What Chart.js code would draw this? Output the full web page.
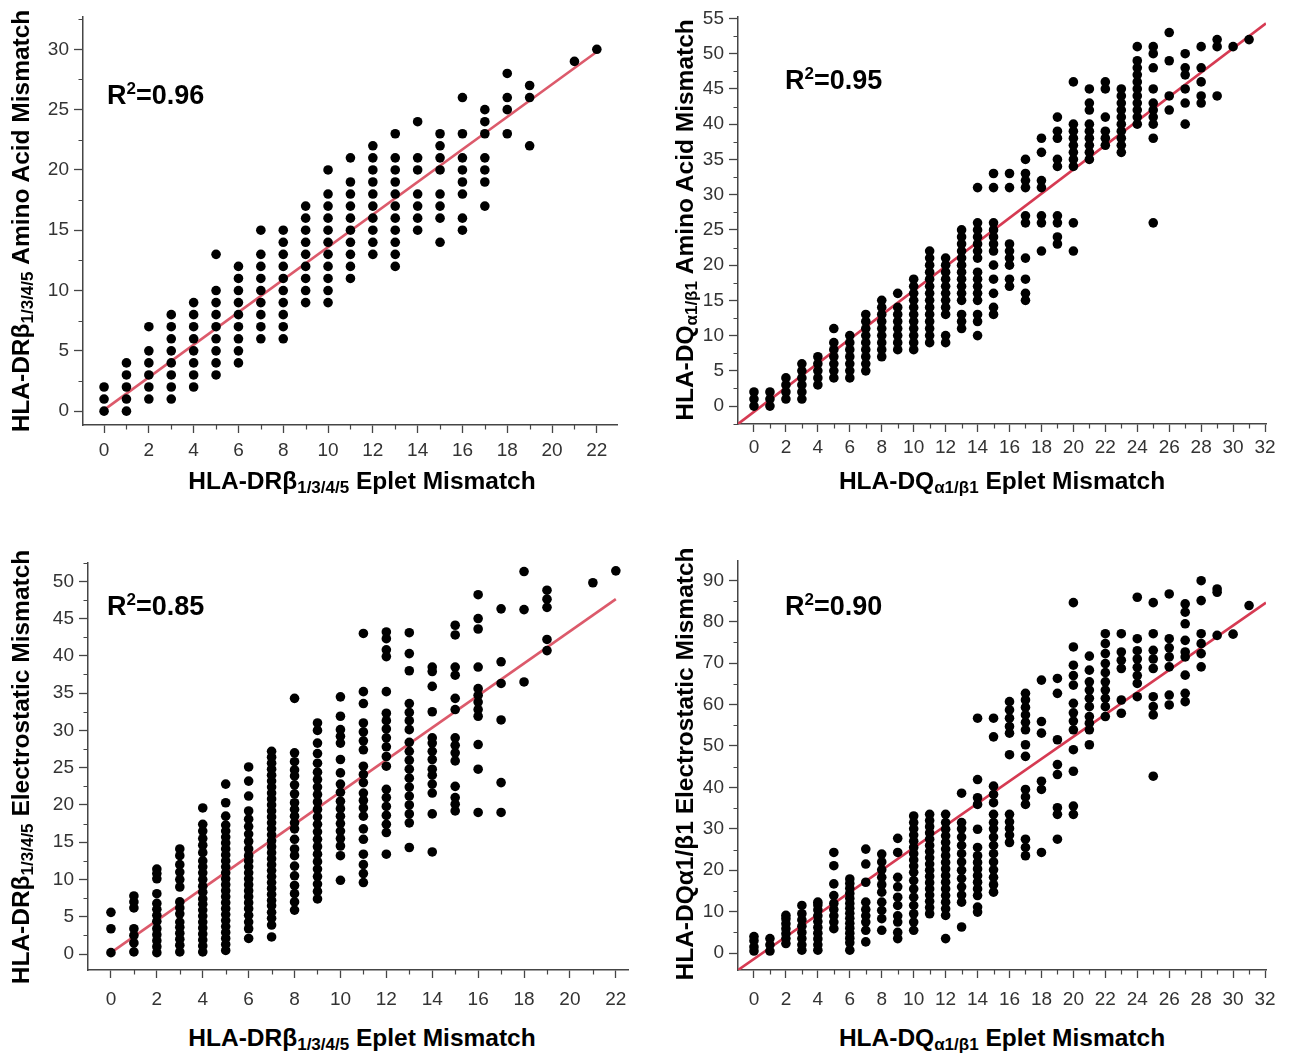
<!DOCTYPE html>
<html>
<head>
<meta charset="utf-8">
<script src="https://cdn.jsdelivr.net/npm/chart.js@4.4.1/dist/chart.umd.min.js"></script>
<style>
  body { margin: 0; background: #fff; }
  #page { position: relative; width: 1289px; height: 1053px; overflow: hidden;
          font-family: "Liberation Sans", Arial, Helvetica, sans-serif; }
  canvas { position: absolute; }
  .xt, .yt { position: absolute; font-weight: bold; font-size: 24.5px; color: #000; white-space: nowrap; }
  .xt { transform: translate(-50%, -50%); }
  .yt { transform: translate(-50%, -50%) rotate(-90deg); }
  .sub { font-size: 17px; position: relative; top: 4px; }
  .r2 { position: absolute; font-weight: bold; font-size: 27px; transform: translateY(-50%); }
  .r2 .sup { font-size: 17px; position: relative; top: -10px; }
</style>
</head>
<body>
<div id="page">
  <canvas id="c1" width="612" height="470" style="left:28px;top:0px"></canvas>
  <canvas id="c2" width="603" height="470" style="left:683px;top:0px"></canvas>
  <canvas id="c3" width="615" height="470" style="left:33px;top:546px"></canvas>
  <canvas id="c4" width="603" height="472" style="left:683px;top:544px"></canvas>

  <div class="yt" style="left:21px;top:221px">HLA-DRβ<span class="sub">1/3/4/5</span> Amino Acid Mismatch</div>
  <div class="xt" style="left:362px;top:481px">HLA-DRβ<span class="sub">1/3/4/5</span> Eplet Mismatch</div>
  <div class="yt" style="left:685px;top:220px">HLA-DQ<span class="sub">α1/β1</span> Amino Acid Mismatch</div>
  <div class="xt" style="left:1002px;top:481px">HLA-DQ<span class="sub">α1/β1</span> Eplet Mismatch</div>
  <div class="yt" style="left:21px;top:767px">HLA-DRβ<span class="sub">1/3/4/5</span> Electrostatic Mismatch</div>
  <div class="xt" style="left:362px;top:1038px">HLA-DRβ<span class="sub">1/3/4/5</span> Eplet Mismatch</div>
  <div class="yt" style="left:685px;top:764px">HLA-DQα1/β1 Electrostatic Mismatch</div>
  <div class="xt" style="left:1002px;top:1038px">HLA-DQ<span class="sub">α1/β1</span> Eplet Mismatch</div>

  <div class="r2" style="left:107px;top:95px">R<span class="sup">2</span>=0.96</div>
  <div class="r2" style="left:785px;top:80px">R<span class="sup">2</span>=0.95</div>
  <div class="r2" style="left:107px;top:606px">R<span class="sup">2</span>=0.85</div>
  <div class="r2" style="left:785px;top:606px">R<span class="sup">2</span>=0.90</div>
</div>

<script>
// each list: index = eplet mismatch count, values = mismatch scores at that count

// HLA-DRb1/3/4/5 amino acid mismatch
const drAminoAcid = [
  [0, 1, 2],
  [0, 1, 2, 3, 4],
  [1, 2, 3, 4, 5, 7],
  [1, 2, 3, 4, 5, 6, 7, 8],
  [2, 3, 4, 5, 6, 7, 8, 9],
  [3, 4, 5, 6, 7, 8, 9, 10, 13],
  [4, 5, 6, 7, 8, 9, 10, 11, 12],
  [6, 7, 8, 9, 10, 11, 12, 13, 15],
  [6, 7, 8, 9, 10, 11, 12, 13, 14, 15],
  [9, 10, 11, 12, 13, 14, 15, 16, 17],
  [9, 10, 11, 12, 13, 14, 15, 16, 17, 18, 20],
  [11, 12, 13, 14, 15, 16, 17, 18, 19, 21],
  [13, 14, 15, 16, 17, 18, 19, 20, 21, 22],
  [12, 13, 14, 15, 16, 17, 18, 19, 20, 21, 23],
  [15, 16, 17, 18, 20, 21, 24],
  [14, 16, 17, 18, 20, 21, 22, 23],
  [15, 16, 18, 19, 20, 21, 23, 26],
  [17, 19, 20, 21, 23, 24, 25],
  [23, 25, 26, 28],
  [22, 26, 27],
  [],
  [29],
  [30]
];

// HLA-DQa1/b1 amino acid mismatch
const dqAminoAcid = [
  [0, 1, 2],
  [0, 1, 2],
  [1, 2, 3, 4],
  [1, 2, 3, 4, 5, 6],
  [3, 4, 5, 6, 7],
  [4, 5, 6, 7, 8, 9, 11],
  [4, 5, 6, 7, 8, 9, 10],
  [5, 6, 7, 8, 9, 10, 11, 12, 13],
  [7, 8, 9, 10, 11, 12, 13, 14, 15],
  [8, 9, 10, 11, 12, 13, 14, 16],
  [8, 9, 10, 11, 12, 13, 14, 15, 16, 17, 18],
  [9, 10, 11, 12, 13, 14, 15, 16, 17, 18, 19, 20, 21, 22],
  [9, 10, 13, 14, 15, 16, 17, 18, 19, 20, 21],
  [11, 12, 13, 15, 16, 17, 18, 19, 20, 21, 22, 23, 24, 25],
  [10, 12, 13, 15, 16, 17, 18, 19, 21, 22, 23, 24, 25, 26, 31],
  [13, 14, 16, 18, 20, 22, 23, 24, 25, 26, 31, 33],
  [17, 18, 20, 21, 22, 23, 31, 33],
  [15, 16, 18, 21, 26, 27, 31, 32, 33, 35],
  [22, 26, 27, 31, 32, 36, 38],
  [23, 24, 26, 27, 34, 35, 38, 39, 41],
  [22, 26, 34, 35, 36, 37, 38, 39, 40, 46],
  [35, 36, 37, 38, 39, 40, 42, 43, 45],
  [37, 38, 39, 41, 45, 46],
  [36, 37, 38, 39, 40, 41, 42, 43, 44, 45],
  [40, 41, 42, 43, 44, 45, 46, 47, 48, 49, 51],
  [26, 38, 40, 41, 42, 43, 45, 48, 50, 51],
  [42, 44, 49, 53],
  [40, 43, 45, 47, 48, 50],
  [43, 44, 46, 48, 51],
  [44, 51, 52],
  [51],
  [52]
];

// HLA-DRb1/3/4/5 electrostatic mismatch
const drElectro = [
  [0.2, 3.4, 5.6],
  [0.3, 1.5, 2.5, 3.4, 6.2, 7.0, 7.8],
  [0.2, 1.0, 1.8, 2.6, 3.4, 4.4, 5.2, 6.0, 6.8, 8.1, 10.1, 10.8, 11.4],
  [0.3, 1.2, 2.0, 2.8, 3.6, 4.3, 5.4, 6.2, 7.0, 9.0, 10.0, 11.0, 12.0, 13.2, 14.1],
  [0.3, 1.1, 1.9, 2.7, 3.5, 4.3, 5.1, 5.9, 6.7, 7.4, 8.3, 9.1, 10.0, 10.9, 11.7, 12.5,
   13.6, 14.6, 15.5, 16.5, 17.4, 19.6],
  [0.5, 1.3, 2.1, 2.9, 3.7, 4.5, 5.3, 6.1, 6.9, 7.7, 8.5, 9.3, 10.1, 10.9, 11.7, 12.5,
   13.3, 14.1, 14.9, 15.7, 16.5, 17.3, 18.5, 20.3, 22.8],
  [2.1, 3.4, 4.3, 5.2, 6.1, 6.9, 7.7, 8.5, 9.3, 10.1, 10.9, 11.7, 12.5, 13.2, 14.1, 15.1,
   16.1, 17.1, 18.1, 19.2, 21.2, 23.2, 25.1],
  [2.3, 3.9, 4.8, 5.6, 6.5, 7.2, 8.0, 8.8, 9.6, 10.4, 11.2, 12.0, 12.8, 13.6, 14.4, 15.2,
   16.0, 16.8, 17.6, 18.4, 19.2, 20.0, 20.8, 21.6, 22.4, 23.2, 24.0, 24.8, 25.6, 26.4, 27.2],
  [5.9, 7.0, 8.1, 9.2, 10.5, 11.8, 13.2, 14.1, 15.4, 16.8, 17.6, 18.5, 19.4, 20.3, 21.5,
   22.7, 23.9, 24.7, 25.8, 27.0, 34.3],
  [7.4, 8.4, 9.4, 10.4, 11.4, 12.4, 13.4, 14.4, 15.4, 16.4, 17.4, 18.4, 19.4, 20.4, 21.4,
   22.4, 23.4, 24.4, 25.6, 26.9, 28.3, 30.0, 31.0],
  [9.9, 13.2, 14.5, 15.5, 16.5, 17.5, 18.5, 19.5, 20.5, 21.7, 22.8, 24.3, 26.1, 28.3, 29.2,
   30.1, 31.9, 34.5],
  [9.6, 10.8, 12.0, 13.4, 15.4, 16.8, 18.5, 19.6, 20.6, 21.6, 23.0, 24.1, 25.2, 27.4, 28.6,
   29.8, 31.0, 33.6, 35.2, 43.0],
  [13.4, 16.3, 17.4, 18.6, 19.8, 21.0, 22.1, 25.2, 26.5, 27.8, 29.0, 30.2, 31.3, 32.3, 35.2,
   39.9, 40.8, 42.3, 43.2],
  [14.3, 17.6, 18.8, 20.0, 21.2, 22.4, 23.6, 24.8, 26.0, 27.2, 28.4, 30.1, 31.3, 32.4, 33.6,
   38.0, 40.3, 43.1],
  [13.7, 18.8, 21.6, 22.8, 24.0, 24.8, 26.1, 27.2, 28.3, 29.0, 32.5, 35.9, 37.9, 38.5],
  [19.2, 20.1, 21.0, 22.5, 25.9, 27.0, 28.0, 29.0, 32.8, 34.3, 37.4, 38.5, 42.8, 44.1],
  [19.0, 24.8, 28.1, 31.9, 32.8, 33.8, 34.7, 35.6, 38.5, 43.6, 45.0, 48.2],
  [19.0, 23.0, 31.4, 36.3, 39.2, 46.3],
  [36.5, 46.2, 51.3],
  [40.7, 42.2, 46.5, 47.6, 48.8],
  [],
  [49.8],
  [51.4]
];

// HLA-DQa1/b1 electrostatic mismatch
const dqElectro = [
  [0.5, 1.5, 3.0, 4.0],
  [0.5, 2.0, 3.5],
  [2.3, 3.5, 4.7, 5.9, 7.1, 8.3, 9.1],
  [0.7, 2.0, 3.5, 5.0, 6.5, 8.0, 9.5, 11.5],
  [0.7, 2.0, 3.4, 4.8, 6.2, 7.6, 9.0, 10.4, 11.6, 12.3],
  [5.9, 7.5, 9.0, 10.5, 12.0, 13.9, 16.7, 21.1, 24.3],
  [0.7, 2.5, 3.6, 4.8, 6.0, 7.2, 8.4, 9.6, 10.8, 12.0, 13.2, 14.4, 15.6, 16.8, 17.9],
  [2.7, 5.5, 7.5, 9.0, 10.5, 12.3, 17.1, 21.5, 25.1],
  [5.5, 8.3, 10.3, 12.3, 14.7, 16.5, 18.3, 20.1, 22.0, 23.9],
  [3.5, 5.0, 7.5, 9.0, 11.5, 13.5, 16.0, 18.3, 24.3, 27.7],
  [5.5, 7.5, 9.5, 11.5, 13.5, 15.5, 17.5, 19.5, 21.0, 22.5, 24.0, 25.5, 27.0, 28.5, 30.0,
   31.5, 33.1],
  [9.5, 11.0, 12.5, 14.0, 15.5, 17.0, 18.5, 20.0, 21.5, 23.0, 24.5, 26.0, 27.5, 29.0, 30.5,
   32.0, 33.5],
  [3.5, 9.1, 10.7, 12.3, 13.9, 15.5, 17.1, 18.7, 20.3, 21.9, 23.5, 25.1, 26.7, 28.3, 29.9,
   31.5, 33.5],
  [6.3, 12.3, 14.0, 16.0, 18.0, 20.0, 22.0, 24.0, 26.0, 28.0, 30.0, 31.5, 38.6],
  [9.9, 11.1, 13.9, 15.5, 17.1, 18.7, 20.3, 21.9, 23.5, 25.5, 29.9, 35.9, 37.5, 41.9, 56.7],
  [14.7, 16.5, 18.3, 20.1, 22.0, 24.0, 26.0, 28.0, 30.0, 31.5, 33.5, 36.3, 38.3, 40.3, 52.2, 56.7],
  [26.7, 28.5, 30.1, 31.7, 33.5, 47.9, 53.1, 54.7, 56.7, 58.7, 60.7],
  [23.5, 25.5, 27.5, 35.9, 37.7, 39.5, 47.5, 50.3, 53.9, 55.7, 57.5, 59.3, 61.1, 62.7],
  [24.3, 39.5, 41.5, 53.1, 55.9, 65.9],
  [27.5, 33.5, 35.1, 43.1, 45.5, 51.5, 62.7, 66.3],
  [33.5, 35.5, 43.9, 49.1, 53.9, 56.0, 58.0, 60.3, 64.7, 67.0, 69.5, 73.9, 84.6],
  [50.3, 53.9, 55.5, 57.1, 59.5, 61.5, 63.5, 65.5, 68.3, 71.7],
  [57.1, 59.5, 61.5, 63.5, 65.5, 67.7, 69.9, 72.3, 74.7, 77.1],
  [57.9, 61.1, 68.7, 70.7, 72.7, 77.1],
  [61.9, 65.1, 67.0, 69.0, 71.0, 73.0, 75.9, 85.9],
  [42.7, 57.5, 59.5, 61.9, 68.7, 71.0, 73.1, 77.1, 84.6],
  [59.9, 62.3, 69.1, 71.5, 73.7, 75.9, 86.7],
  [60.7, 62.7, 67.1, 71.5, 72.7, 75.5, 79.5, 82.3, 84.3],
  [69.1, 72.3, 74.7, 77.1, 85.1, 89.9],
  [76.7, 87.1, 87.9],
  [77.0],
  [83.9]
];

// regression line end points [eplets, mismatch]
const drAminoAcidFit = [[0, 0.1], [22, 29.8]];
const dqAminoAcidFit = [[-1.0, -2.54], [32.06, 54.3]];
const drElectroFit = [[0, 0.2], [22, 47.6]];
const dqElectroFit = [[-1.0, -4.1], [32.06, 84.6]];

// tick labels
const drEpletTicks = [0, 2, 4, 6, 8, 10, 12, 14, 16, 18, 20, 22];
const dqEpletTicks = [0, 2, 4, 6, 8, 10, 12, 14, 16, 18, 20, 22, 24, 26, 28, 30, 32];
const drAminoAcidTicks = [0, 5, 10, 15, 20, 25, 30];
const dqAminoAcidTicks = [0, 5, 10, 15, 20, 25, 30, 35, 40, 45, 50, 55];
const drElectroTicks = [0, 5, 10, 15, 20, 25, 30, 35, 40, 45, 50];
const dqElectroTicks = [0, 10, 20, 30, 40, 50, 60, 70, 80, 90];

const FONT = "'Liberation Sans', Arial, Helvetica, sans-serif";
const AXIS = "#454545";

function toPoints(cols) {
  const pts = [];
  cols.forEach((ys, x) => ys.forEach(y => pts.push({ x, y })));
  return pts;
}

// half-way ticks between the labelled ones, plus one past either end if it fits
function minorOf(ticks, min, max) {
  const step = ticks[1] - ticks[0];
  const out = [];
  const first = ticks[0] - step / 2;
  if (first > min) out.push(first);
  for (let i = 0; i < ticks.length; i++) {
    const v = ticks[i] + step / 2;
    if (v < max) out.push(v);
  }
  return out;
}

const minorTicks = {
  id: "minorTicks",
  afterDraw(chart, args, opts) {
    const { ctx, chartArea: a } = chart;
    const xs = chart.scales.x, ys = chart.scales.y;
    ctx.save();
    ctx.strokeStyle = AXIS;
    ctx.lineWidth = 1.2;
    ctx.beginPath();
    minorOf(opts.xTicks, xs.min, xs.max).forEach(v => {
      const p = Math.round(xs.getPixelForValue(v)) + 0.5;
      ctx.moveTo(p, a.bottom);
      ctx.lineTo(p, a.bottom + 4.5);
    });
    minorOf(opts.yTicks, ys.min, ys.max).forEach(v => {
      const p = Math.round(ys.getPixelForValue(v)) + 0.5;
      ctx.moveTo(a.left, p);
      ctx.lineTo(a.left - 4.5, p);
    });
    ctx.stroke();
    ctx.restore();
  }
};

function panel(id, p) {
  return new Chart(document.getElementById(id), {
    type: "scatter",
    data: {
      datasets: [
        {
          data: toPoints(p.cols),
          pointRadius: 4.8,
          pointHoverRadius: 4.8,
          backgroundColor: "#000",
          borderWidth: 0
        },
        {
          type: "line",
          data: p.fit.map(([x, y]) => ({ x, y })),
          borderColor: p.fitColor,
          borderWidth: 2.6,
          pointRadius: 0,
          fill: false
        }
      ]
    },
    options: {
      responsive: false,
      animation: false,
      events: [],
      layout: { padding: { top: 14, right: p.padRight, left: 0, bottom: 0 } },
      plugins: {
        legend: { display: false },
        tooltip: { enabled: false },
        minorTicks: { xTicks: p.xTicks, yTicks: p.yTicks }
      },
      scales: {
        x: {
          type: "linear",
          min: p.xMin,
          max: p.xMax,
          afterFit(s) { s.height = p.xHeight; },
          afterBuildTicks(s) { s.ticks = p.xTicks.map(v => ({ value: v })); },
          grid: { drawOnChartArea: false, tickLength: 8, color: AXIS, tickWidth: 1.3 },
          border: { color: AXIS, width: 1.5 },
          ticks: { autoSkip: false, maxRotation: 0, padding: p.xPad,
                   color: "#333", font: { family: FONT, size: 19 } }
        },
        y: {
          type: "linear",
          min: p.yMin,
          max: p.yMax,
          afterFit(s) { s.width = p.yWidth; },
          afterBuildTicks(s) { s.ticks = p.yTicks.map(v => ({ value: v })); },
          grid: { drawOnChartArea: false, tickLength: 9, color: AXIS, tickWidth: 1.3 },
          border: { color: AXIS, width: 1.5 },
          ticks: { autoSkip: false, padding: 5,
                   color: "#333", font: { family: FONT, size: 19 } }
        }
      }
    },
    plugins: [minorTicks]
  });
}

panel("c1", {
  cols: drAminoAcid, fit: drAminoAcidFit, fitColor: "#dc5a6b",
  xTicks: drEpletTicks, yTicks: drAminoAcidTicks,
  xMin: -0.94, xMax: 22.9, yMin: -1.15, yMax: 32.73,
  yWidth: 55, xHeight: 45, padRight: 23, xPad: 6
});

panel("c2", {
  cols: dqAminoAcid, fit: dqAminoAcidFit, fitColor: "#d63a52",
  xTicks: dqEpletTicks, yTicks: dqAminoAcidTicks,
  xMin: -1.0, xMax: 32.06, yMin: -2.54, yMax: 55.29,
  yWidth: 55, xHeight: 46, padRight: 20, xPad: 4
});

panel("c3", {
  cols: drElectro, fit: drElectroFit, fitColor: "#dc5a6b",
  xTicks: drEpletTicks, yTicks: drElectroTicks,
  xMin: -1.0, xMax: 22.53, yMin: -2.13, yMax: 52.53,
  yWidth: 55, xHeight: 46, padRight: 20, xPad: 10
});

panel("c4", {
  cols: dqElectro, fit: dqElectroFit, fitColor: "#d63a52",
  xTicks: dqEpletTicks, yTicks: dqElectroTicks,
  xMin: -1.0, xMax: 32.06, yMin: -4.08, yMax: 94.8,
  yWidth: 55, xHeight: 46, padRight: 20, xPad: 10
});
</script>
</body>
</html>
